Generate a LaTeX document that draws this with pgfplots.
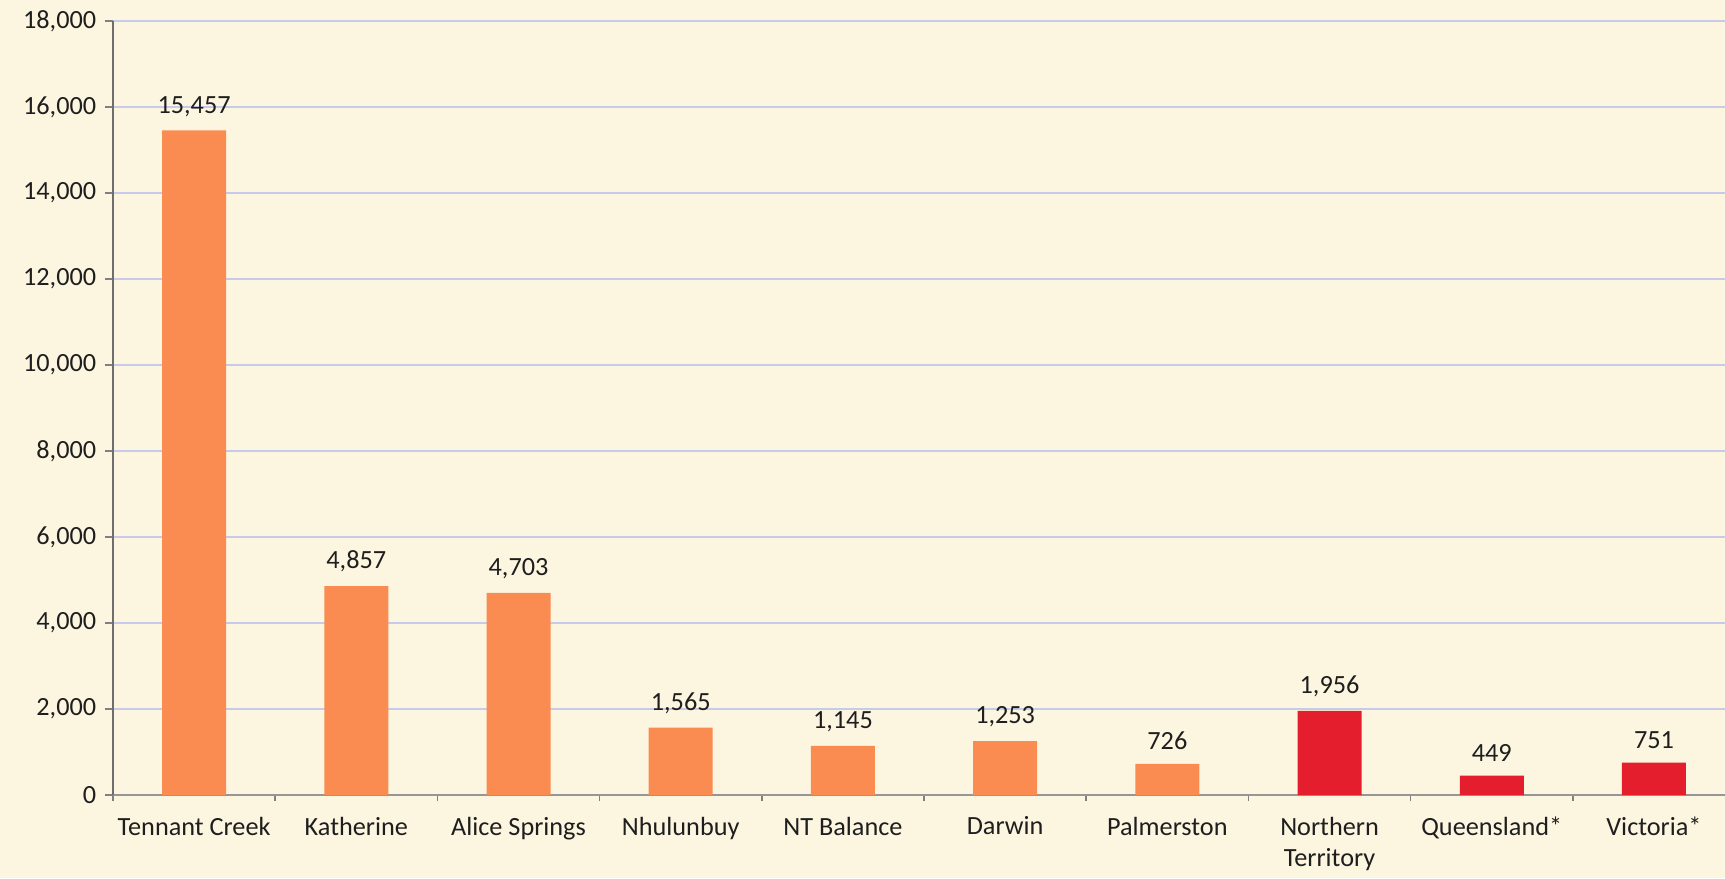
\documentclass[border=0pt]{standalone}
\usepackage{pgfplots}
\pgfplotsset{compat=1.18}
\usepackage{fontspec}
\setmainfont{Carlito}
\definecolor{bgcream}{RGB}{252,246,224}
\definecolor{barorange}{RGB}{250,140,82}
\definecolor{barred}{RGB}{228,30,45}
\definecolor{gridlav}{RGB}{200,202,236}
\definecolor{txtcol}{RGB}{30,30,30}

\begin{document}
\begin{tikzpicture}
\fill[bgcream] (-45.2pt,-33.2pt) rectangle (644.8pt,318pt);
\begin{axis}[
  scale only axis, width=644.8pt, height=309.6pt,
  xmin=-0.5, xmax=9.438, ymin=0, ymax=18000,
  ybar, bar width=25.6pt, bar shift=0pt,
  axis x line*=bottom, axis y line*=left,
  x axis line style={draw={rgb,255:red,150;green,150;blue,150}, line width=0.7pt},
  y axis line style={draw={rgb,255:red,110;green,110;blue,110}, line width=0.7pt},
  ytick={0,2000,...,18000},
  scaled y ticks=false,
  xtick={0,...,9},
  xticklabels={Tennant Creek,Katherine,Alice Springs,Nhulunbuy,NT Balance,Darwin,Palmerston,{Northern\\Territory},Queensland*,Victoria*},
  minor xtick={-0.5,0.5,1.5,2.5,3.5,4.5,5.5,6.5,7.5,8.5},
  tick align=outside,
  major tick length=3.2pt, minor tick length=2.4pt,
  major x tick style={draw=none},
  tick style={gray, line width=0.6pt},
  ymajorgrids, grid style={gridlav, line width=0.7pt},
  xticklabel style={align=center, text=txtcol, yshift=-2pt},
  yticklabel style={text=txtcol},
  ticklabel style={font=\fontsize{10.5}{12.5}\selectfont},
  /pgf/number format/.cd, 1000 sep={,}, assume math mode=true,
  /pgfplots/.cd,
  nodes near coords={\pgfmathprintnumber[1000 sep={,},assume math mode=true]{\pgfplotspointmeta}},
  nodes near coords style={font=\fontsize{10.5}{12.5}\selectfont, text=txtcol, yshift=2pt},
]
  \addplot[draw=none, fill=barorange] coordinates {
    (0,15457) (1,4857) (2,4703) (3,1565) (4,1145) (5,1253) (6,726)};
  \addplot[draw=none, fill=barred] coordinates {
    (7,1956) (8,449) (9,751)};
\end{axis}
\pgfresetboundingbox
\path[use as bounding box] (-45.2pt,-33.2pt) rectangle (644.8pt,318pt);
\end{tikzpicture}
\end{document}
